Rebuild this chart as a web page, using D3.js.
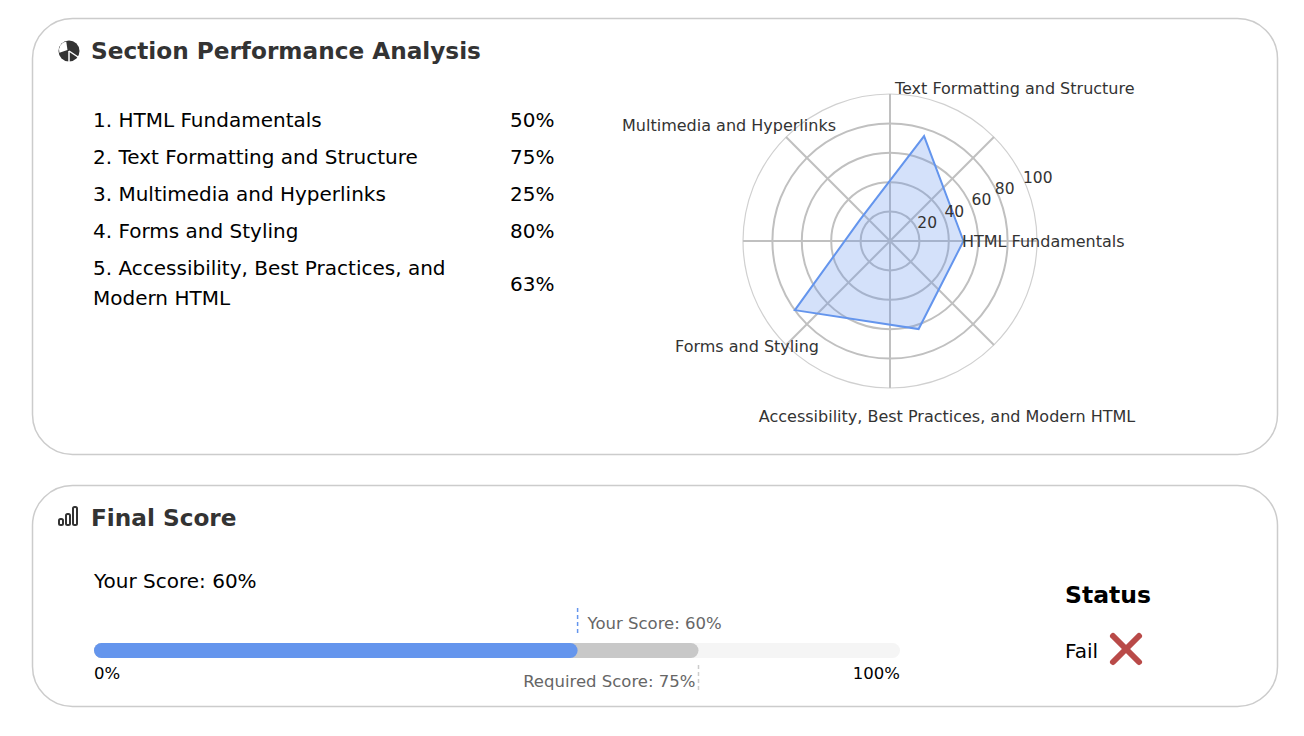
<!DOCTYPE html>
<html><head><meta charset="utf-8">
<script src="https://cdn.jsdelivr.net/npm/d3@7"></script>
<style>body{margin:0;background:#fff;font-family:"DejaVu Sans",sans-serif;}</style>
</head><body>
<svg id="c" width="1304" height="736"></svg>
<script>
const sections = ["HTML Fundamentals","Text Formatting and Structure","Multimedia and Hyperlinks","Forms and Styling","Accessibility, Best Practices, and Modern HTML"];
const scores = [50,75,25,80,63];
const radialTicks = [20,40,60,80,100];
const yourScore = 60, requiredScore = 75;
const status = "Fail";

const svg = d3.select("#c");
const F = "DejaVu Sans, sans-serif";
svg.append("rect").attr("x",32.5).attr("y",18.5).attr("width",1245).attr("height",436).attr("rx",40).attr("fill","#fff").attr("stroke","#ccc").attr("stroke-width",1.5);
svg.append("rect").attr("x",32.5).attr("y",485.5).attr("width",1245).attr("height",221).attr("rx",40).attr("fill","#fff").attr("stroke","#ccc").attr("stroke-width",1.5);

const pi = svg.append("g").attr("transform","translate(69,51)");
pi.append("circle").attr("r",10.5).attr("fill","#333");
pi.append("path").attr("d",d3.arc()({innerRadius:0,outerRadius:8.5,startAngle:-Math.PI*0.6,endAngle:-0.15})).attr("fill","#fff").attr("transform","translate(-1.5,-1)");
pi.append("line").attr("x1",0).attr("y1",0).attr("x2",9).attr("y2",6).attr("stroke","#fff").attr("stroke-width",1.5);
pi.append("line").attr("x1",0).attr("y1",0).attr("x2",0).attr("y2",11).attr("stroke","#fff").attr("stroke-width",1.5);
svg.append("text").attr("x",91).attr("y",59).attr("font-family",F).attr("font-weight","bold").attr("font-size",23.2).attr("fill","#333").text("Section Performance Analysis");

const listY = [127,164,201,238];
sections.forEach((s,i)=>{
  if(i<4){
    svg.append("text").attr("x",93).attr("y",listY[i]).attr("font-family",F).attr("font-size",20).text(`${i+1}. ${s}`);
    svg.append("text").attr("x",510).attr("y",listY[i]).attr("font-family",F).attr("font-size",20).text(scores[i]+"%");
  } else {
    svg.append("text").attr("x",93).attr("y",275).attr("font-family",F).attr("font-size",20).text(`${i+1}. Accessibility, Best Practices, and`);
    svg.append("text").attr("x",93).attr("y",305).attr("font-family",F).attr("font-size",20).text("Modern HTML");
    svg.append("text").attr("x",510).attr("y",291).attr("font-family",F).attr("font-size",20).text(scores[i]+"%");
  }
});

const cx=890, cy=241, R=147;
const r = d3.scaleLinear().domain([0,100]).range([0,R]);
const g = svg.append("g").attr("transform",`translate(${cx},${cy})`);
radialTicks.forEach(t=>g.append("circle").attr("r",r(t)).attr("fill","none").attr("stroke",t==100?"#d0d0d0":"#c0c0c0").attr("stroke-width",t==100?1.2:2));
for(let k=0;k<8;k++){const a=k*Math.PI/4;g.append("line").attr("x2",R*Math.cos(a)).attr("y2",-R*Math.sin(a)).attr("stroke","#c0c0c0").attr("stroke-width",2);}
const ang = i=> i*2*Math.PI/sections.length;
const pts = scores.map((v,i)=>[r(v)*Math.cos(ang(i)), -r(v)*Math.sin(ang(i))]);
g.append("path").attr("d",d3.line().curve(d3.curveLinearClosed)(pts)).attr("fill","rgba(100,149,237,0.28)").attr("stroke","#6495ED").attr("stroke-width",2);
radialTicks.forEach(t=>{const a=22.5*Math.PI/180;g.append("text").attr("x",r(t)*Math.cos(a)+(t==100?12:t==80?6:10)).attr("y",-r(t)*Math.sin(a)-2).attr("font-family",F).attr("font-size",15.5).attr("fill","#333").attr("text-anchor","middle").text(t);});
const labelPos=[[72,6,"start"],[5,-147,"start"],[-54,-110,"end"],[-143,111,"middle"],[57,181,"middle"]];
sections.forEach((s,i)=>{g.append("text").attr("x",labelPos[i][0]).attr("y",labelPos[i][1]).attr("text-anchor",labelPos[i][2]).attr("font-family",F).attr("font-size",16).attr("fill","#333").text(s);});

const bi = svg.append("g").attr("fill","none").attr("stroke","#333").attr("stroke-width",2);
bi.append("rect").attr("x",59).attr("y",519).attr("width",4).attr("height",6).attr("rx",1.5);
bi.append("rect").attr("x",66).attr("y",514).attr("width",4).attr("height",11).attr("rx",1.5);
bi.append("rect").attr("x",73).attr("y",507).attr("width",4).attr("height",18).attr("rx",1.5);
svg.append("text").attr("x",91).attr("y",526).attr("font-family",F).attr("font-weight","bold").attr("font-size",23.2).attr("fill","#333").text("Final Score");
svg.append("text").attr("x",94).attr("y",588).attr("font-family",F).attr("font-size",20).text(`Your Score: ${yourScore}%`);

const x = d3.scaleLinear().domain([0,100]).range([94,900]);
const by=643, bh=15;
svg.append("rect").attr("x",x(0)).attr("y",by).attr("width",x(100)-x(0)).attr("height",bh).attr("rx",7.5).attr("fill","#f5f5f5");
svg.append("rect").attr("x",x(0)).attr("y",by).attr("width",x(requiredScore)-x(0)).attr("height",bh).attr("rx",7.5).attr("fill","#c8c8c8");
svg.append("rect").attr("x",x(0)).attr("y",by).attr("width",x(yourScore)-x(0)).attr("height",bh).attr("rx",7.5).attr("fill","#6495ED");
svg.append("line").attr("x1",x(yourScore)).attr("x2",x(yourScore)).attr("y1",608).attr("y2",635).attr("stroke","#6495ED").attr("stroke-width",1.5).attr("stroke-dasharray","4,3");
svg.append("text").attr("x",x(yourScore)+10).attr("y",629).attr("font-family",F).attr("font-size",16.5).attr("fill","#666").text(`Your Score: ${yourScore}%`);
svg.append("line").attr("x1",x(requiredScore)).attr("x2",x(requiredScore)).attr("y1",665).attr("y2",691).attr("stroke","#ccc").attr("stroke-width",1.5).attr("stroke-dasharray","4,3");
svg.append("text").attr("x",x(requiredScore)-3).attr("y",687).attr("text-anchor","end").attr("font-family",F).attr("font-size",16.5).attr("fill","#666").text(`Required Score: ${requiredScore}%`);
svg.append("text").attr("x",x(0)).attr("y",679).attr("font-family",F).attr("font-size",16.5).text("0%");
svg.append("text").attr("x",x(100)).attr("y",679).attr("text-anchor","end").attr("font-family",F).attr("font-size",16.5).text("100%");

svg.append("text").attr("x",1065).attr("y",603).attr("font-family",F).attr("font-weight","bold").attr("font-size",23.5).text("Status");
svg.append("text").attr("x",1065).attr("y",658).attr("font-family",F).attr("font-size",20).text(status);
const xg = svg.append("g").attr("stroke","#b94a48").attr("stroke-width",6).attr("stroke-linecap","round");
xg.append("line").attr("x1",1113).attr("y1",636).attr("x2",1139).attr("y2",662);
xg.append("line").attr("x1",1139).attr("y1",636).attr("x2",1113).attr("y2",662);
</script></body></html>
